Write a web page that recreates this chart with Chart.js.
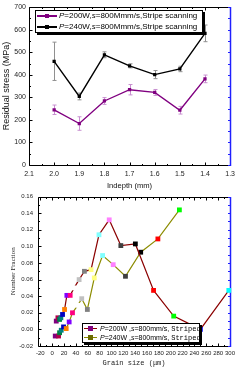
<!DOCTYPE html>
<html>
<head>
<meta charset="utf-8">
<script src="https://cdn.jsdelivr.net/npm/chart.js@4.4.0/dist/chart.umd.min.js"></script>
<style>
html, body { margin: 0; padding: 0; background: #fff; }
#wrap { position: relative; width: 240px; height: 369px; overflow: hidden; }
canvas { position: absolute; left: 0; }
#topChart { top: 0; }
#botChart { top: 188px; }
.legend { position: absolute; box-sizing: border-box; background: #fff; border: 1px solid #000; box-shadow: 2px 2px 0 #000; font-family: "Liberation Sans", Arial, sans-serif; color: #000; }
.legend .ln { position: absolute; height: 1.5px; }
.legend .mk { position: absolute; }
.legend .tx { position: absolute; white-space: nowrap; line-height: 10px; }
.mono { font-family: "Liberation Mono", monospace; }
</style>
</head>
<body>
<div id="wrap">
  <canvas id="topChart" width="240" height="190"></canvas>
  <canvas id="botChart" width="240" height="181"></canvas>

  <div class="legend" style="left:35px;top:10px;width:168px;height:23px;font-size:8px;">
    <div class="ln" style="left:1px;top:4px;width:20px;background:#800080;"></div>
    <div class="mk" style="left:9px;top:3px;width:4px;height:4px;background:#800080;"></div>
    <div class="tx" style="left:23px;top:0px;"><i>P</i>=200W,<i>s</i>=800Mmm/s,Stripe scanning</div>
    <div class="ln" style="left:1px;top:15px;width:20px;background:#000;"></div>
    <div class="mk" style="left:9px;top:14px;width:4px;height:4px;background:#000;"></div>
    <div class="tx" style="left:23px;top:10.5px;"><i>P</i>=240W,<i>s</i>=800Mmm/s,Stripe scanning</div>
  </div>

  <div class="legend" style="left:82px;top:323px;width:118px;height:20px;font-size:7px;">
    <div class="ln" style="left:1px;top:3.5px;width:13px;background:#8b0000;"></div>
    <div class="mk" style="left:5px;top:2px;width:5px;height:5px;background:#800080;"></div>
    <div class="tx" style="left:17px;top:-0.5px;"><i>P</i>=200W ,<i>s</i>=800mm/s, <span class="mono">Striped</span></div>
    <div class="ln" style="left:1px;top:12.5px;width:13px;background:#8c8c00;"></div>
    <div class="mk" style="left:5px;top:11px;width:5px;height:5px;background:#6b6b00;"></div>
    <div class="tx" style="left:17px;top:8.5px;"><i>P</i>=240W ,<i>s</i>=800mm/s, <span class="mono">Striped</span></div>
  </div>
</div>

<script>
// top panel: residual stress vs indepth
const depth = [2.0, 1.9, 1.8, 1.7, 1.6, 1.5, 1.4];
const stress200 = [245, 184, 284, 334, 322, 243, 382];
const err200 = [21, 30, 15, 23, 13, 17, 17];
const stress240 = [460, 304, 489, 440, 401, 426, 584];
const err240 = [85, 15, 13, 9, 18, 12, 37];
const depthTicks = [2.1, 2.0, 1.9, 1.8, 1.7, 1.6, 1.5, 1.4, 1.3];
const stressTicks = [0, 100, 200, 300, 400, 500, 600, 700];

// bottom panel: number fraction vs grain size
const grain200 = [6.8, 9.6, 12.4, 14.6, 17.4, 20.8, 24.7, 30.3, 37, 45.4, 54.3, 65.5, 78.9, 96.2, 115.8, 140.3, 171, 205, 250, 298];
const frac200 = [0.010, 0.014, 0.012, 0.014, 0.018, 0.024, 0.041, 0.041, 0.050, 0.060, 0.070, 0.072, 0.114, 0.132, 0.101, 0.103, 0.047, 0.016, 0.000, 0.047];
const grain240 = [5.1, 10.7, 12.4, 15.2, 19.1, 23.6, 28.6, 34.2, 43, 49.8, 59.3, 71, 85, 102.9, 123.6, 149.3, 178.3, 214.6];
const frac240 = [-0.008, -0.008, -0.004, -0.001, 0.003, 0.001, 0.009, 0.020, 0.029, 0.037, 0.024, 0.062, 0.089, 0.078, 0.064, 0.093, 0.109, 0.144];
const grainTicks = [-20, 0, 20, 40, 60, 80, 100, 120, 140, 160, 180, 200, 220, 240, 260, 280, 300];
const fracTicks = [-0.02, 0, 0.02, 0.04, 0.06, 0.08, 0.10, 0.12, 0.14, 0.16];
const markerColors = ['#800080', '#b0004a', '#008040', '#008080', '#0000c0', '#ff8000', '#8000ff', '#ff0080', '#ffffff', '#c0c0c0',
                      '#808080', '#ffff80', '#80ffff', '#ff80ff', '#404040', '#000000', '#ff0000', '#00ff00', '#0000ff', '#00ffff'];

const pts = (xs, ys) => xs.map((x, i) => ({ x: x, y: ys[i] }));
const mids = arr => arr.slice(1).map((v, i) => (v + arr[i]) / 2);
const SANS = '"Liberation Sans", Arial, sans-serif';

const errorBars = {
  id: 'errorBars',
  beforeDatasetsDraw(chart) {
    const { ctx, scales: { x, y } } = chart;
    chart.data.datasets.forEach(ds => {
      if (!ds.errors) return;
      ctx.save();
      ctx.strokeStyle = ds.errorColor;
      ctx.lineWidth = 1;
      ds.data.forEach((p, i) => {
        const px = Math.round(x.getPixelForValue(p.x)) + 0.5;
        const t = y.getPixelForValue(p.y + ds.errors[i]);
        const b = y.getPixelForValue(p.y - ds.errors[i]);
        ctx.beginPath();
        ctx.moveTo(px, t); ctx.lineTo(px, b);
        ctx.moveTo(px - 2, t); ctx.lineTo(px + 2, t);
        ctx.moveTo(px - 2, b); ctx.lineTo(px + 2, b);
        ctx.stroke();
      });
      ctx.restore();
    });
  }
};

// Origin-like frame: inward ticks on all four sides, blue right axis
const frameTicks = {
  id: 'frameTicks',
  beforeDatasetsDraw(chart, args, o) {
    const { ctx, chartArea: a, scales: { x, y } } = chart;
    const L = Math.round(a.left) + 0.5, R = Math.round(a.right) + 0.5;
    const T = Math.round(a.top) + 0.5, B = Math.round(a.bottom) + 0.5;
    ctx.save();
    ctx.lineWidth = 1;
    ctx.strokeStyle = '#000';
    ctx.beginPath();
    const xt = (v, len) => {
      const p = Math.round(x.getPixelForValue(v)) + 0.5;
      ctx.moveTo(p, B); ctx.lineTo(p, B - len);
      ctx.moveTo(p, T); ctx.lineTo(p, T + len);
    };
    o.xMajor.forEach(v => xt(v, 3));
    mids(o.xMajor).forEach(v => xt(v, 1.5));
    o.yMajor.forEach(v => { const p = Math.round(y.getPixelForValue(v)) + 0.5; ctx.moveTo(L, p); ctx.lineTo(L + 3, p); });
    mids(o.yMajor).forEach(v => { const p = Math.round(y.getPixelForValue(v)) + 0.5; ctx.moveTo(L, p); ctx.lineTo(L + 1.5, p); });
    ctx.moveTo(L, T); ctx.lineTo(R, T);
    ctx.moveTo(L, T); ctx.lineTo(L, B);
    ctx.moveTo(L, B); ctx.lineTo(R, B);
    ctx.stroke();
    ctx.strokeStyle = '#2020ff';
    ctx.beginPath();
    o.yMajor.concat(mids(o.yMajor)).forEach(v => { const p = Math.round(y.getPixelForValue(v)) + 0.5; ctx.moveTo(R, p); ctx.lineTo(R - 2.5, p); });
    ctx.stroke();
    ctx.lineWidth = 1.5;
    ctx.beginPath();
    ctx.moveTo(R, T - 0.5); ctx.lineTo(R, B + 0.5);
    ctx.stroke();
    ctx.restore();
  }
};

new Chart(document.getElementById('topChart'), {
  type: 'line',
  data: {
    datasets: [{
      label: 'P=200W,s=800Mmm/s,Stripe scanning',
      data: pts(depth, stress200),
      errors: err200,
      errorColor: '#c890d0',
      borderColor: '#800080',
      backgroundColor: '#800080',
      borderWidth: 1.4,
      pointStyle: 'rect',
      pointRadius: 2.3,
      pointBorderWidth: 0,
      tension: 0
    }, {
      label: 'P=240W,s=800Mmm/s,Stripe scanning',
      data: pts(depth, stress240),
      errors: err240,
      errorColor: '#909090',
      borderColor: '#000',
      backgroundColor: '#000',
      borderWidth: 1.4,
      pointStyle: 'rect',
      pointRadius: 2.3,
      pointBorderWidth: 0,
      tension: 0
    }]
  },
  options: {
    responsive: false,
    animation: false,
    devicePixelRatio: 1,
    layout: { padding: { left: 0, top: 6, right: 8, bottom: 0 } },
    plugins: {
      legend: { display: false },
      tooltip: { enabled: false },
      frameTicks: { xMajor: depthTicks, yMajor: stressTicks }
    },
    scales: {
      x: {
        type: 'linear',
        reverse: true,
        min: 1.3,
        max: 2.1,
        afterBuildTicks: s => { s.ticks = depthTicks.map(v => ({ value: v })); },
        afterFit: s => { s.height = 25; },
        grid: { display: false, drawTicks: false },
        border: { display: false },
        ticks: { font: { family: SANS, size: 7 }, color: '#222', padding: 5, maxRotation: 0, autoSkip: false, callback: v => v.toFixed(1) },
        title: { display: true, text: 'Indepth (mm)', font: { family: SANS, size: 7.6 }, color: '#111', padding: { top: 0, bottom: 0 } }
      },
      y: {
        min: 0,
        max: 700,
        afterBuildTicks: s => { s.ticks = stressTicks.map(v => ({ value: v })); },
        afterFit: s => { s.width = 29; },
        grid: { display: false, drawTicks: false },
        border: { display: false },
        ticks: { font: { family: SANS, size: 7 }, color: '#222', padding: 3 },
        title: { display: true, text: 'Residual stress (MPa)', font: { family: SANS, size: 9 }, color: '#111', padding: { top: 1.5, bottom: 0 } }
      }
    }
  },
  plugins: [frameTicks, errorBars]
});

new Chart(document.getElementById('botChart'), {
  type: 'line',
  data: {
    datasets: [{
      label: 'P=200W ,s=800mm/s, Striped',
      data: pts(grain200, frac200),
      borderColor: '#8b0000',
      backgroundColor: markerColors.slice(0, grain200.length),
      borderWidth: 1.2,
      pointStyle: 'rect',
      pointRadius: 3.4,
      pointBorderWidth: 0,
      tension: 0,
      clip: false
    }, {
      label: 'P=240W ,s=800mm/s, Striped',
      data: pts(grain240, frac240),
      borderColor: '#8c8c00',
      backgroundColor: markerColors.slice(0, grain240.length),
      borderWidth: 1.2,
      pointStyle: 'rect',
      pointRadius: 3.4,
      pointBorderWidth: 0,
      tension: 0,
      clip: false
    }]
  },
  options: {
    responsive: false,
    animation: false,
    devicePixelRatio: 1,
    layout: { padding: { left: 0, top: 8, right: 10, bottom: 0 } },
    plugins: {
      legend: { display: false },
      tooltip: { enabled: false },
      frameTicks: { xMajor: grainTicks, yMajor: fracTicks }
    },
    scales: {
      x: {
        type: 'linear',
        min: -24,
        max: 300,
        afterBuildTicks: s => { s.ticks = grainTicks.map(v => ({ value: v })); },
        afterFit: s => { s.height = 23; },
        grid: { display: false, drawTicks: false },
        border: { display: false },
        ticks: { font: { family: SANS, size: 6 }, color: '#222', padding: 3.5, maxRotation: 0, autoSkip: false },
        title: { display: true, text: 'Grain size (μm)', font: { family: '"Liberation Mono", monospace', size: 7 }, color: '#222', padding: { top: 0, bottom: 2 } }
      },
      y: {
        min: -0.02,
        max: 0.16,
        afterBuildTicks: s => { s.ticks = fracTicks.map(v => ({ value: v })); },
        afterFit: s => { s.width = 38; },
        grid: { display: false, drawTicks: false },
        border: { display: false },
        ticks: { font: { family: SANS, size: 6 }, color: '#222', padding: 5, callback: v => v.toFixed(2) },
        title: { display: true, text: 'Number Fraction', font: { family: '"Liberation Serif", serif', size: 7 }, color: '#222', padding: { top: 9, bottom: 0 } }
      }
    }
  },
  plugins: [frameTicks]
});
</script>
</body>
</html>
